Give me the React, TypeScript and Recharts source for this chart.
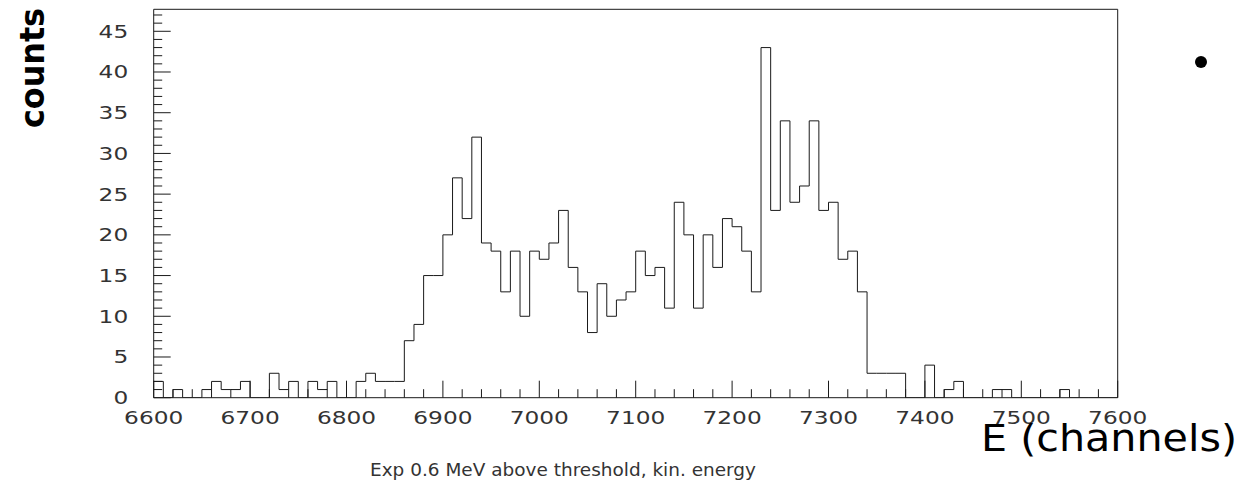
import React from 'react';
import { LineChart, Line, XAxis, YAxis, ReferenceLine } from 'recharts';

// Histogram of counts per 10-channel bin, from 6600 to 7600
const counts = [
  2, 0, 1, 0, 0, 1, 2, 1, 1, 2,
  0, 0, 3, 1, 2, 0, 2, 1, 2, 0,
  0, 2, 3, 2, 2, 2, 7, 9, 15, 15,
  20, 27, 22, 32, 19, 18, 13, 18, 10, 18,
  17, 19, 23, 16, 13, 8, 14, 10, 12, 13,
  18, 15, 16, 11, 24, 20, 11, 20, 16, 22,
  21, 18, 13, 43, 23, 34, 24, 26, 34, 23,
  24, 17, 18, 13, 3, 3, 3, 3, 0, 0,
  4, 0, 1, 2, 0, 0, 0, 1, 1, 0,
  0, 0, 0, 0, 1, 0, 0, 0, 0, 0,
];
const xMin = 6600;
const xMax = 7600;
const binWidth = 10;
const yMax = 47.7;

const xTickLabels = [6600, 6700, 6800, 6900, 7000, 7100, 7200, 7300, 7400, 7500, 7600];
const yTickLabels = [0, 5, 10, 15, 20, 25, 30, 35, 40, 45];
const xMinorStep = 20;
const yMinorStep = 1;

const xTitle = 'E (channels)';
const yTitle = 'counts';
const caption = 'Exp 0.6 MeV above threshold, kin. energy';

const data = counts
  .map((c, i) => ({ x: xMin + i * binWidth, c }))
  .concat([{ x: xMin + counts.length * binWidth, c: counts[counts.length - 1] }]);

const xTicks: number[] = [];
for (let v = xMin; v <= xMax; v += xMinorStep) xTicks.push(v);
const yTicks: number[] = [];
for (let v = 0; v <= Math.floor(yMax); v += yMinorStep) yTicks.push(v);

const tickFont = 'DejaVu Sans';
const INK = '#1a1a1a';

const YTick = (props: any) => {
  const { x, y, payload } = props;
  const v = payload.value;
  const major = yTickLabels.includes(v);
  const s = String(v);
  return (
    <g>
      <line x1={x} x2={x + (major ? 17 : 8.5)} y1={y} y2={y} stroke={INK} strokeWidth={1} />
      {major && (
        <text
          x={x - 25.5}
          y={y + 6.5}
          textAnchor="end"
          fontFamily={tickFont}
          fontSize={18}
          fill="#333"
          textLength={s.length * 14.8}
          lengthAdjust="spacingAndGlyphs"
        >
          {s}
        </text>
      )}
    </g>
  );
};

const XTick = (props: any) => {
  const { x, y, payload } = props;
  const v = payload.value;
  const major = xTickLabels.includes(v);
  const s = String(v);
  return (
    <g>
      <line x1={x} x2={x} y1={y} y2={y - (major ? 17 : 8.5)} stroke={INK} strokeWidth={1} />
      {major && (
        <text
          x={x}
          y={y + 26}
          textAnchor="middle"
          fontFamily={tickFont}
          fontSize={18}
          fill="#333"
          textLength={s.length * 14.8}
          lengthAdjust="spacingAndGlyphs"
        >
          {s}
        </text>
      )}
    </g>
  );
};

export default function App() {
  return (
    <div style={{ position: 'absolute', left: 0, top: 0, width: 1243, height: 488, background: '#fff' }}>
      <LineChart
        width={1243}
        height={488}
        data={data}
        margin={{ top: 9.3, right: 125.3, bottom: 60.3, left: 93.7 }}
      >
        <XAxis
          xAxisId="b"
          dataKey="x"
          type="number"
          domain={[xMin, xMax]}
          ticks={xTicks}
          interval={0}
          tickSize={0}
          tickMargin={0}
          tick={<XTick />}
          axisLine={{ stroke: INK, strokeWidth: 1 }}
          tickLine={false}
          height={30}
          allowDataOverflow
        />
        <YAxis
          yAxisId="l"
          type="number"
          domain={[0, yMax]}
          ticks={yTicks}
          interval={0}
          tickSize={0}
          tickMargin={0}
          tick={<YTick />}
          axisLine={{ stroke: INK, strokeWidth: 1 }}
          tickLine={false}
          width={60}
          allowDataOverflow
        />
        <ReferenceLine xAxisId="b" yAxisId="l" y={yMax} stroke={INK} strokeWidth={1} ifOverflow="visible" />
        <ReferenceLine xAxisId="b" yAxisId="l" x={xMax} stroke={INK} strokeWidth={1} ifOverflow="visible" />
        <Line
          xAxisId="b"
          yAxisId="l"
          type="stepAfter"
          dataKey="c"
          stroke={INK}
          strokeWidth={1}
          dot={false}
          activeDot={false}
          isAnimationActive={false}
        />
      </LineChart>
      <svg
        width={1243}
        height={488}
        style={{ position: 'absolute', left: 0, top: 0, pointerEvents: 'none' }}
      >
        <text
          transform="translate(44,68) rotate(-90)"
          textAnchor="middle"
          fontFamily="DejaVu Sans"
          fontWeight="bold"
          fontSize={34}
          fill="#000"
          textLength={120}
          lengthAdjust="spacingAndGlyphs"
        >
          {yTitle}
        </text>
        <text
          x={981}
          y={451}
          fontFamily="DejaVu Sans"
          fontSize={38}
          fill="#000"
          textLength={256}
          lengthAdjust="spacingAndGlyphs"
        >
          {xTitle}
        </text>
        <text
          x={370}
          y={476}
          fontFamily={tickFont}
          fontSize={18}
          fill="#333"
          textLength={386}
          lengthAdjust="spacingAndGlyphs"
        >
          {caption}
        </text>
        <circle cx={1201} cy={62} r={6} fill="#000" />
      </svg>
    </div>
  );
}
